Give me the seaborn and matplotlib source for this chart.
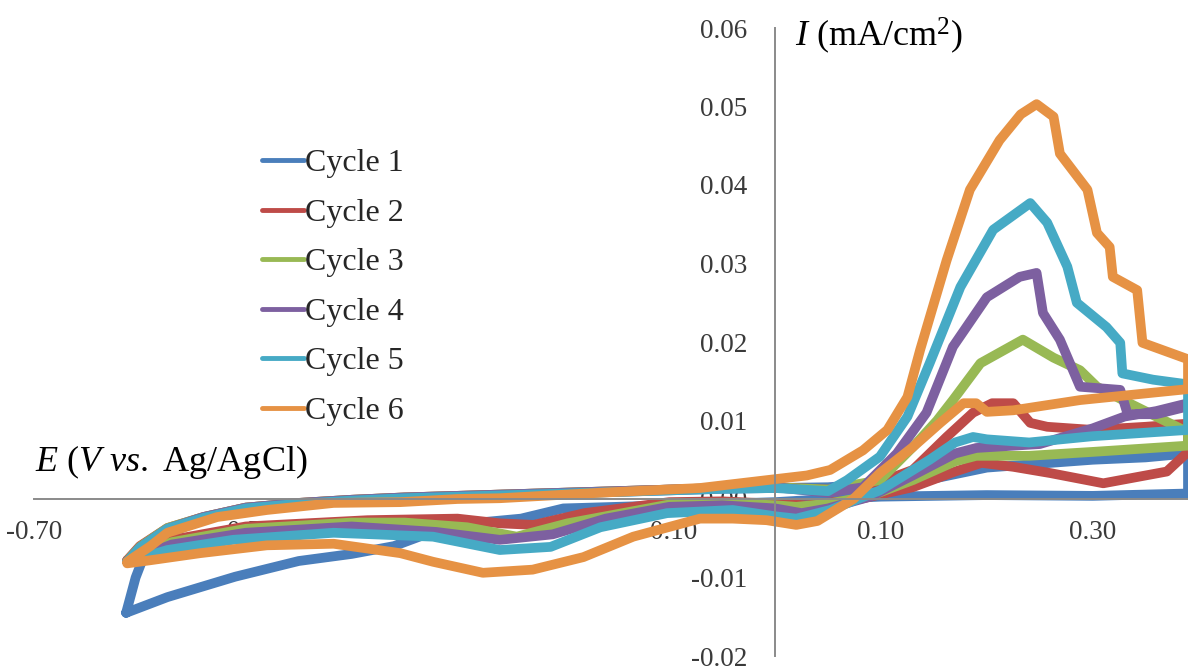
import numpy as np
import pandas as pd
import seaborn as sns
import matplotlib.pyplot as plt
from matplotlib.ticker import FormatStrFormatter

# cycle 1
e1 = [-0.613, -0.604, -0.596, -0.574, -0.54, -0.50, -0.45, -0.40, -0.35, -0.30, -0.25, -0.20, -0.15, -0.10, -0.05, 0.00, 0.05, 0.10, 0.15, 0.20, 0.25, 0.30, 0.35, 0.39,
      0.39, 0.30, 0.20, 0.10, 0.05, 0.00, -0.10, -0.20, -0.24, -0.28, -0.32, -0.36, -0.40, -0.45, -0.51, -0.574, -0.613]
i1 = [-0.0145, -0.0100, -0.0072, -0.0044, -0.0026, -0.0013, -0.0006, -0.0002, 0.0001, 0.0003, 0.0005, 0.0007, 0.0009, 0.0011, 0.0013, 0.0014, 0.0015, 0.0020, 0.0026, 0.0040, 0.0045, 0.0050, 0.0053, 0.0058,
      0.0007, 0.0004, 0.0005, 0.0003, 0.0000, -0.0004, -0.0008, -0.0012, -0.0025, -0.0030, -0.0040, -0.0060, -0.0070, -0.0079, -0.0099, -0.0125, -0.0145]
# cycle 2
e2 = [-0.612, -0.60, -0.574, -0.54, -0.50, -0.45, -0.40, -0.35, -0.30, -0.25, -0.20, -0.15, -0.10, -0.05, 0.00, 0.05, 0.10, 0.13, 0.162, 0.187, 0.205, 0.225, 0.241, 0.257, 0.30, 0.35, 0.39,
      0.39, 0.37, 0.31, 0.26, 0.225, 0.195, 0.17, 0.13, 0.08, 0.03, 0.00, -0.05, -0.10, -0.18, -0.228, -0.26, -0.30, -0.385, -0.50, -0.57, -0.612]
i2 = [-0.0078, -0.0060, -0.0037, -0.0023, -0.0011, -0.0005, -0.0001, 0.0002, 0.0004, 0.0006, 0.0008, 0.0010, 0.0012, 0.0014, 0.0015, 0.0012, 0.0022, 0.0037, 0.0079, 0.0110, 0.0122, 0.0122, 0.0097, 0.0092, 0.0088, 0.0092, 0.0096,
      0.0060, 0.0035, 0.0020, 0.0033, 0.0041, 0.0046, 0.0035, 0.0015, 0.0000, -0.0008, -0.0006, -0.0003, -0.0004, -0.0018, -0.0033, -0.0031, -0.0025, -0.0027, -0.0035, -0.0052, -0.0078]
# cycle 3
e3 = [-0.612, -0.60, -0.574, -0.54, -0.50, -0.45, -0.40, -0.35, -0.30, -0.25, -0.20, -0.15, -0.10, -0.05, 0.00, 0.05, 0.099, 0.13, 0.153, 0.168, 0.194, 0.234, 0.263, 0.288, 0.304, 0.33, 0.36, 0.39,
      0.39, 0.30, 0.24, 0.19, 0.17, 0.13, 0.09, 0.05, 0.02, 0.00, -0.05, -0.10, -0.196, -0.244, -0.291, -0.35, -0.40, -0.50, -0.57, -0.612]
i3 = [-0.0079, -0.0061, -0.0037, -0.0023, -0.0011, -0.0005, -0.0001, 0.0002, 0.0004, 0.0006, 0.0008, 0.0010, 0.0012, 0.0014, 0.0015, 0.0012, 0.0024, 0.0066, 0.0100, 0.0126, 0.0173, 0.0203, 0.0180, 0.0164, 0.0143, 0.0125, 0.0105, 0.0085,
      0.0068, 0.0060, 0.0055, 0.0055, 0.0048, 0.0024, 0.0004, -0.0006, -0.0010, -0.0008, -0.0005, -0.0007, -0.0031, -0.0048, -0.0036, -0.0030, -0.0030, -0.0038, -0.0055, -0.0080]
# cycle 4
e4 = [-0.612, -0.60, -0.574, -0.54, -0.50, -0.45, -0.40, -0.35, -0.30, -0.25, -0.20, -0.15, -0.10, -0.05, 0.00, 0.05, 0.083, 0.115, 0.143, 0.168, 0.20, 0.231, 0.247, 0.253, 0.269, 0.288, 0.326, 0.333, 0.36, 0.39,
      0.39, 0.36, 0.33, 0.30, 0.25, 0.19, 0.17, 0.13, 0.09, 0.05, 0.025, 0.00, -0.05, -0.10, -0.16, -0.21, -0.26, -0.32, -0.40, -0.50, -0.57, -0.612]
i4 = [-0.0080, -0.0062, -0.0038, -0.0023, -0.0011, -0.0005, -0.0001, 0.0002, 0.0004, 0.0006, 0.0008, 0.0010, 0.0012, 0.0014, 0.0015, 0.0008, 0.0015, 0.0058, 0.0110, 0.0194, 0.0257, 0.0283, 0.0288, 0.0237, 0.0203, 0.0143, 0.0139, 0.0108, 0.0108, 0.0118,
      0.0122, 0.0112, 0.0105, 0.0090, 0.0070, 0.0065, 0.0058, 0.0030, 0.0003, -0.0012, -0.0018, -0.0012, -0.0008, -0.0010, -0.0025, -0.0045, -0.0052, -0.0042, -0.0035, -0.0043, -0.0058, -0.0080]
# cycle 5
e5 = [-0.612, -0.60, -0.574, -0.54, -0.50, -0.45, -0.40, -0.35, -0.30, -0.25, -0.20, -0.15, -0.10, -0.05, 0.00, 0.05, 0.068, 0.099, 0.125, 0.146, 0.175, 0.206, 0.241, 0.257, 0.276, 0.285, 0.313, 0.326, 0.328, 0.357, 0.39,
      0.39, 0.30, 0.24, 0.20, 0.187, 0.17, 0.146, 0.099, 0.052, 0.02, 0.00, -0.04, -0.102, -0.165, -0.212, -0.26, -0.323, -0.417, -0.512, -0.574, -0.612]
i5 = [-0.0080, -0.0062, -0.0038, -0.0024, -0.0012, -0.0006, -0.0002, 0.0001, 0.0003, 0.0005, 0.0007, 0.0009, 0.0011, 0.0013, 0.0014, 0.0010, 0.0024, 0.0054, 0.0105, 0.0173, 0.0270, 0.0343, 0.0377, 0.0352, 0.0296, 0.0250, 0.0219, 0.0199, 0.0160, 0.0152, 0.0146,
      0.0088, 0.0080, 0.0072, 0.0076, 0.0079, 0.0072, 0.0050, 0.0011, -0.0014, -0.0025, -0.0022, -0.0014, -0.0018, -0.0036, -0.0061, -0.0065, -0.0048, -0.0043, -0.0052, -0.0065, -0.0080]
# cycle 6
e6 = [-0.612, -0.59, -0.574, -0.527, -0.48, -0.417, -0.354, -0.30, -0.26, -0.165, -0.071, -0.008, 0.03, 0.052, 0.083, 0.106, 0.125, 0.137, 0.162, 0.184, 0.212, 0.232, 0.247, 0.263, 0.269, 0.295, 0.304, 0.316, 0.319, 0.342, 0.347, 0.39,
      0.39, 0.288, 0.225, 0.20, 0.19, 0.178, 0.156, 0.13, 0.099, 0.074, 0.04, 0.02, -0.008, -0.04, -0.071, -0.134, -0.181, -0.229, -0.276, -0.323, -0.354, -0.417, -0.48, -0.543, -0.59, -0.612]
i6 = [-0.0080, -0.0060, -0.0043, -0.0023, -0.0014, -0.0005, -0.0004, 0.0000, 0.0001, 0.0008, 0.0014, 0.0024, 0.0030, 0.0037, 0.0062, 0.0088, 0.0130, 0.0190, 0.0304, 0.0394, 0.0457, 0.0490, 0.0503, 0.0487, 0.0440, 0.0394, 0.0339, 0.0321, 0.0283, 0.0266, 0.0199, 0.0178,
      0.0140, 0.0126, 0.0113, 0.0111, 0.0122, 0.0122, 0.0097, 0.0066, 0.0033, 0.0000, -0.0028, -0.0033, -0.0027, -0.0025, -0.0025, -0.0048, -0.0074, -0.0090, -0.0094, -0.0080, -0.0069, -0.0057, -0.0059, -0.0069, -0.0078, -0.0082]

labels = ["Cycle 1", "Cycle 2", "Cycle 3", "Cycle 4", "Cycle 5", "Cycle 6"]
colors = ["#4A7EBB", "#BE4B48", "#98B954", "#7D60A0", "#46AAC5", "#E69244"]
xticks = [-0.70, -0.50, -0.30, -0.10, 0.10, 0.30]
yticks = [-0.02, -0.01, 0.00, 0.01, 0.02, 0.03, 0.04, 0.05, 0.06]

sns.set_style("white")
plt.rcParams["font.family"] = ["Liberation Serif", "DejaVu Serif"]
plt.rcParams["axes.unicode_minus"] = False
plt.rcParams["mathtext.fontset"] = "custom"
plt.rcParams["mathtext.rm"] = "Liberation Serif"
plt.rcParams["mathtext.it"] = "Liberation Serif:italic"

fig = plt.figure(figsize=(11.88, 6.71), dpi=100)
ax = fig.add_axes([34 / 1188, 1 - 656 / 671, (1188 - 34) / 1188, (656 - 28) / 671])

for e, i, lab, c in zip([e1, e2, e3, e4, e5, e6], [i1, i2, i3, i4, i5, i6], labels, colors):
    sns.lineplot(x=e, y=i, sort=False, estimator=None, color=c, linewidth=7,
                 solid_joinstyle="round", solid_capstyle="round", label=lab, ax=ax)

ax.set_xlim(-0.70, 0.39)
ax.set_ylim(-0.02, 0.06)
ax.set_xticks(xticks)
ax.set_yticks(yticks)
ax.xaxis.set_major_formatter(FormatStrFormatter("%.2f"))
ax.yaxis.set_major_formatter(FormatStrFormatter("%.2f"))
ax.set_xlabel("")
ax.set_ylabel("")

for s in ["top", "right"]:
    ax.spines[s].set_visible(False)
ax.spines["left"].set_position(("data", 0))
ax.spines["bottom"].set_position(("data", 0))
for s in ["left", "bottom"]:
    ax.spines[s].set_color("#8a8a8a")
    ax.spines[s].set_linewidth(1.4)
ax.tick_params(axis="both", direction="out", length=7, width=1.3, color="#8a8a8a",
               labelcolor="#3a3a3a", labelsize=19.5)
ax.tick_params(axis="x", pad=8)
ax.tick_params(axis="y", pad=13)

leg = ax.legend(loc="upper left", bbox_to_anchor=(262 / 1188, 1 - 149 / 671),
                bbox_transform=fig.transFigure, frameon=False, fontsize=23,
                handlelength=1.3, handletextpad=0.05, labelspacing=0.63,
                borderpad=0, borderaxespad=0)
for h in leg.get_lines():
    h.set_linewidth(3.5)

fig.text(35 / 1188, 1 - 462 / 671, r"$\mathit{E}$ ($\mathit{V\ vs.}$Ag/AgCl)".replace("$Ag", "$ Ag"),
         fontsize=26, va="center", ha="left", color="black")
fig.text(795 / 1188, 1 - 36 / 671, r"$\mathit{I}$ (mA/cm$^{2}$)",
         fontsize=26, va="center", ha="left", color="black")

fig.savefig("out.png", dpi=100)
